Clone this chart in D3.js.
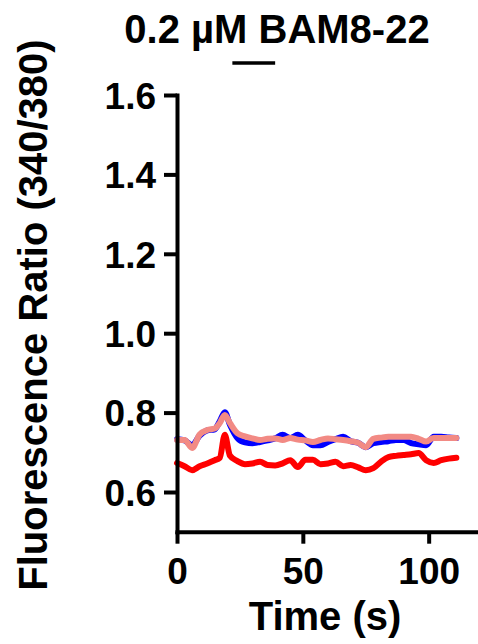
<!DOCTYPE html>
<html>
<head>
<meta charset="utf-8">
<script src="https://cdn.jsdelivr.net/npm/d3@7"></script>
<style>
  html, body { margin: 0; padding: 0; background: #fff; }
  svg { display: block; font-family: "Liberation Sans", Arial, sans-serif; font-weight: bold; }
</style>
</head>
<body>
<svg id="chart" width="478" height="644"></svg>
<script>
const title = "0.2 \u00b5M BAM8-22";
const xLabel = "Time (s)";
const yLabel = "Fluorescence Ratio (340/380)";
const stimulus = [22, 39];
const xTicks = [0, 50, 100];
const yTicks = [0.6, 0.8, 1.0, 1.2, 1.4, 1.6];

const time = [0,3,6,9,12,15,17,19,21,24,27,30,33,36,39,42,45,48,51,54,57,60,63,66,69,72,75,78,81,84,87,90,93,96,99,102,105,108,111];
const blue = [0.733,0.730,0.718,0.742,0.755,0.758,0.778,0.801,0.770,0.736,0.725,0.723,0.726,0.730,0.735,0.744,0.736,0.744,0.730,0.718,0.718,0.726,0.733,0.739,0.728,0.724,0.713,0.723,0.726,0.728,0.731,0.731,0.723,0.720,0.718,0.739,0.739,0.737,0.736];
const red = [0.673,0.665,0.655,0.665,0.672,0.680,0.686,0.744,0.692,0.678,0.670,0.672,0.676,0.668,0.667,0.672,0.680,0.663,0.681,0.681,0.670,0.672,0.676,0.665,0.668,0.662,0.655,0.660,0.676,0.688,0.691,0.693,0.695,0.698,0.680,0.673,0.680,0.684,0.686];
const pink = [0.731,0.731,0.711,0.745,0.756,0.760,0.774,0.794,0.774,0.748,0.740,0.735,0.731,0.734,0.735,0.731,0.736,0.732,0.730,0.726,0.731,0.735,0.733,0.731,0.728,0.724,0.713,0.734,0.737,0.739,0.739,0.739,0.739,0.734,0.727,0.736,0.736,0.736,0.736];

const svg = d3.select("#chart");
const x = d3.scaleLinear().domain([0, 120]).range([177, 479]);
const y = d3.scaleLinear().domain([0.5, 1.6]).range([531.7, 95]);

// lines
const line = d3.line().x((d, i) => x(time[i])).y(d => y(d)).curve(d3.curveMonotoneX);
const series = [
  { vals: blue, color: "#0000ff" },
  { vals: red, color: "#ff0000" },
  { vals: pink, color: "#f28a84" }
];
svg.append("g").selectAll("path").data(series).join("path")
  .attr("d", s => line(s.vals))
  .attr("fill", "none")
  .attr("stroke", s => s.color)
  .attr("stroke-width", 6)
  .attr("stroke-linejoin", "round")
  .attr("stroke-linecap", "round");

// axes
const yAxis = d3.axisLeft(y).tickValues(yTicks).tickFormat(d3.format(".1f")).tickSize(13).tickSizeOuter(0).tickPadding(8);
const gy = svg.append("g").attr("transform", "translate(177,0)").call(yAxis);
const xAxis = d3.axisBottom(x).tickValues(xTicks).tickFormat(d3.format("d")).tickSize(12).tickSizeOuter(0).tickPadding(14);
const gx = svg.append("g").attr("transform", "translate(0,531.7)").call(xAxis);

[gy, gx].forEach(g => {
  g.select(".domain").attr("stroke", "#000").attr("stroke-width", 4).attr("stroke-linecap", "square");
  g.selectAll(".tick line").attr("stroke", "#000").attr("stroke-width", 4);
  g.selectAll(".tick text").attr("fill", "#000")
    .style("font-size", "37px").style("font-weight", "bold")
    .style("font-family", "'Liberation Sans', Arial, sans-serif");
});
gy.selectAll(".tick text").attr("dy", "0.36em");

// title
svg.append("text").attr("x", 277).attr("y", 43).attr("text-anchor", "middle")
  .style("font-size", "40px").text(title);

// stimulus bar
svg.append("line")
  .attr("x1", x(stimulus[0])).attr("x2", x(stimulus[1]))
  .attr("y1", 63).attr("y2", 63)
  .attr("stroke", "#000").attr("stroke-width", 3.5);

// x label
svg.append("text").attr("x", 325).attr("y", 630).attr("text-anchor", "middle")
  .style("font-size", "40px").text(xLabel);

// y label
svg.append("text").attr("transform", "translate(47,315) rotate(-90)").attr("text-anchor", "middle")
  .style("font-size", "40px").text(yLabel);
</script>
</body>
</html>
